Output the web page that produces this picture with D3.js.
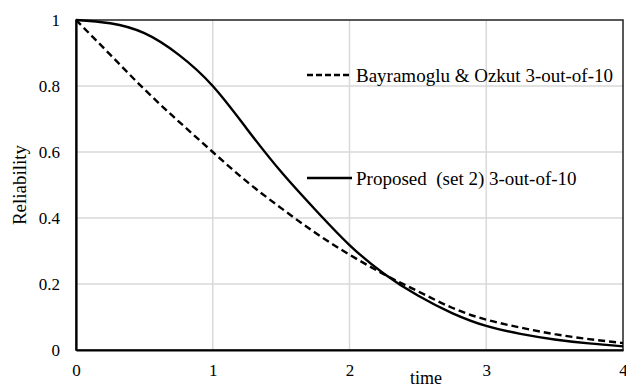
<!DOCTYPE html>
<html>
<head>
<meta charset="utf-8">
<script src="https://cdn.jsdelivr.net/npm/d3@7"></script>
<style>
    html, body { margin: 0; padding: 0; background: #fff; }
    svg text { font-family: "Liberation Serif", "Times New Roman", Times, serif; }
</style>
</head>
<body>
<div id="chart"></div>
<script>
// values
const times = [0, 0.25, 0.5, 0.75, 1, 1.25, 1.5, 1.75, 2, 2.25, 2.5, 2.75, 3, 3.25, 3.5, 3.75, 4];
const bayramogluOzkut = [1, 0.895, 0.79, 0.693, 0.60, 0.51, 0.43, 0.355, 0.289, 0.23, 0.178, 0.128, 0.092, 0.068, 0.048, 0.033, 0.021];
const proposedSet2 = [1, 0.99, 0.96, 0.895, 0.80, 0.67, 0.54, 0.425, 0.318, 0.232, 0.165, 0.112, 0.073, 0.049, 0.032, 0.02, 0.011];
const xTicks = [0, 1, 2, 3, 4];
const yTicks = [0, 0.2, 0.4, 0.6, 0.8, 1];
const seriesNames = ["Bayramoglu & Ozkut 3-out-of-10", "Proposed  (set 2) 3-out-of-10"];

const W = 626, H = 385;
const margin = { top: 20, right: 3, bottom: 35, left: 76 };
const width = W - margin.left - margin.right;
const height = H - margin.top - margin.bottom;
const serif = "'Liberation Serif', 'Times New Roman', Times, serif";

const svg = d3.select("#chart").append("svg")
    .attr("width", W)
    .attr("height", H)
    .attr("font-family", serif);

const g = svg.append("g")
    .attr("transform", `translate(${margin.left},${margin.top})`);

const x = d3.scaleLinear().domain([0, 4]).range([0, width]);
const y = d3.scaleLinear().domain([0, 1]).range([height, 0]);

// grid
g.append("g")
    .selectAll("line")
    .data(xTicks.slice(1, -1))
    .enter().append("line")
    .attr("x1", d => x(d)).attr("x2", d => x(d))
    .attr("y1", 0).attr("y2", height)
    .attr("stroke", "#d9d9d9").attr("stroke-width", 1.5);

g.append("g")
    .selectAll("line")
    .data(yTicks.slice(1, -1))
    .enter().append("line")
    .attr("x1", 0).attr("x2", width)
    .attr("y1", d => y(d)).attr("y2", d => y(d))
    .attr("stroke", "#d9d9d9").attr("stroke-width", 1.5);

// frame
g.append("rect")
    .attr("x", 0).attr("y", 0)
    .attr("width", width).attr("height", height)
    .attr("fill", "none")
    .attr("stroke", "#222").attr("stroke-width", 1.5);

// axes
const xAxis = g.append("g")
    .attr("transform", `translate(0,${height})`)
    .call(d3.axisBottom(x).tickValues(xTicks).tickSize(0).tickPadding(14).tickFormat(d3.format("d")));
const yAxis = g.append("g")
    .call(d3.axisLeft(y).tickValues(yTicks).tickSize(0).tickPadding(16).tickFormat(d => d === 0 || d === 1 ? d : d.toFixed(1)));

[xAxis, yAxis].forEach(a => {
    a.attr("font-family", serif).attr("font-size", 17);
    a.select(".domain").attr("stroke", "#000").attr("stroke-width", 2.2);
    a.selectAll("text").attr("fill", "#000");
});

// curves
const line = d3.line()
    .x((d, i) => x(times[i]))
    .y(d => y(d))
    .curve(d3.curveNatural);

g.append("path")
    .datum(bayramogluOzkut)
    .attr("d", line)
    .attr("fill", "none")
    .attr("stroke", "#000")
    .attr("stroke-width", 2.4)
    .attr("stroke-dasharray", "7,4");

g.append("path")
    .datum(proposedSet2)
    .attr("d", line)
    .attr("fill", "none")
    .attr("stroke", "#000")
    .attr("stroke-width", 2.4);

// legend
const legendRows = [
    { name: seriesNames[0], dash: "6,3", yPos: 75 },
    { name: seriesNames[1], dash: null, yPos: 178 }
];
legendRows.forEach(r => {
    svg.append("line")
        .attr("x1", 307).attr("x2", 352)
        .attr("y1", r.yPos).attr("y2", r.yPos)
        .attr("stroke", "#000").attr("stroke-width", 2.4)
        .attr("stroke-dasharray", r.dash);
    svg.append("text")
        .attr("x", 356).attr("y", r.yPos)
        .attr("dy", "0.35em")
        .attr("font-size", 19)
        .style("white-space", "pre")
        .attr("fill", "#000")
        .text(r.name);
});

// axis titles
svg.append("text")
    .attr("x", 426).attr("y", 384)
    .attr("text-anchor", "middle")
    .attr("font-size", 18)
    .text("time");

svg.append("text")
    .attr("transform", `translate(26,${margin.top + height / 2}) rotate(-90)`)
    .attr("text-anchor", "middle")
    .attr("font-size", 19)
    .text("Reliability");
</script>
</body>
</html>
